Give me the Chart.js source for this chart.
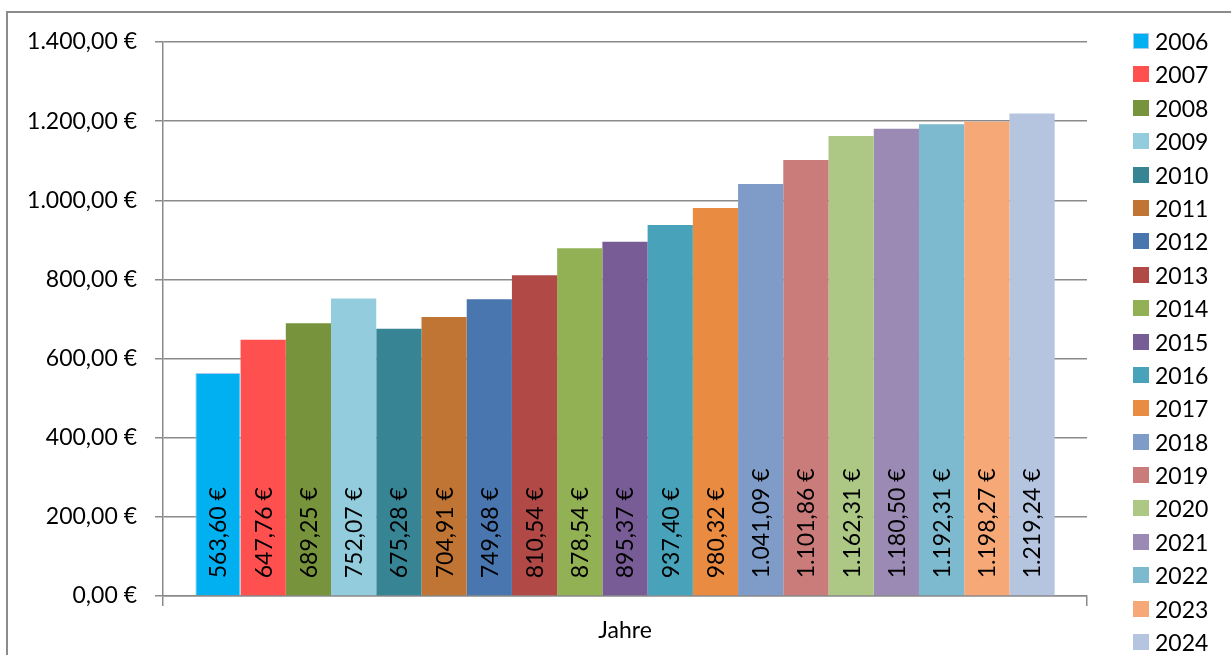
<!DOCTYPE html>
<html>
<head>
<meta charset="utf-8">
<script src="https://cdn.jsdelivr.net/npm/chart.js@4/dist/chart.umd.min.js"></script>
<style>
  html, body { margin: 0; padding: 0; background: #fff; }
  #wrap { position: relative; width: 1231px; height: 655px; overflow: hidden; }
  #frame { position: absolute; left: 6px; top: 11px; width: 1300px; height: 700px; border: 2px solid #8c8c8c; }
  #myChart { position: absolute; left: 0; top: 0; }
  #legend { position: absolute; left: 1133px; top: 0; font-family: Lato, sans-serif; font-size: 23px; color: #000; }
  .item { position: absolute; left: 0; height: 26px; white-space: nowrap; }
  .item span.box { position: absolute; left: 0; top: 5px; width: 16px; height: 16px; box-sizing: border-box; }
  .item span.txt { position: absolute; left: 22px; top: 0; line-height: 26px; }
</style>
</head>
<body>
<div id="wrap">
  <div id="frame"></div>
  <canvas id="myChart" width="1231" height="655"></canvas>
  <div id="legend"></div>
</div>
<script>
// one category, one series per year
const categories = ['Jahre'];
const years = ['2006', '2007', '2008', '2009', '2010', '2011', '2012', '2013', '2014', '2015',
               '2016', '2017', '2018', '2019', '2020', '2021', '2022', '2023', '2024'];
const amounts = [563.60, 647.76, 689.25, 752.07, 675.28, 704.91, 749.68, 810.54, 878.54, 895.37,
                 937.40, 980.32, 1041.09, 1101.86, 1162.31, 1180.50, 1192.31, 1198.27, 1219.24];
const colors = ['#00B0F0', '#FF5050', '#77933C', '#93CDDD', '#378495', '#C07535', '#4A76AF',
                '#B14A47', '#92B054', '#775C96', '#47A2BA', '#E98B41', '#7F9CC8', '#CA7C7B',
                '#ADC785', '#9B8AB4', '#7DBAD0', '#F6A977', '#B5C4DF'];
const yTicks = [0, 200, 400, 600, 800, 1000, 1200, 1400];

// German currency format, e.g. 1.041,09 €
function euro(v) {
    let parts = v.toFixed(2).split('.');
    parts[0] = parts[0].replace(/\B(?=(\d{3})+(?!\d))/g, '.');
    return parts[0] + ',' + parts[1] + ' €';
}

const FONT = 'Lato, sans-serif';
const GRID = '#8a8a8a';

// labels standing upright inside the bars, near the base
const barLabels = {
    id: 'barLabels',
    afterDatasetsDraw(chart) {
        const ctx = chart.ctx;
        ctx.save();
        ctx.font = '23px ' + FONT;
        ctx.fillStyle = '#000';
        ctx.textAlign = 'left';
        ctx.textBaseline = 'middle';
        chart.data.datasets.forEach((ds, i) => {
            chart.getDatasetMeta(i).data.forEach((bar, j) => {
                ctx.save();
                ctx.translate(bar.x, bar.base - 17);
                ctx.rotate(-Math.PI / 2);
                ctx.fillText(euro(ds.data[j]), 0, 1);
                ctx.restore();
            });
        });
        ctx.restore();
    }
};

const datasets = years.map((y, i) => ({
    label: y,
    data: [amounts[i]],
    backgroundColor: colors[i],
    borderColor: i === 0 ? '#A9CBEB' : colors[i],
    borderWidth: i === 0 ? 1 : 0,
    categoryPercentage: 0.93,
    barPercentage: 1.0
}));

const chart = new Chart(document.getElementById('myChart'), {
    type: 'bar',
    data: { labels: categories, datasets: datasets },
    options: {
        responsive: false,
        animation: false,
        layout: { padding: { top: 42, left: 0, right: 144, bottom: 0 } },
        plugins: { legend: { display: false }, tooltip: { enabled: false } },
        scales: {
            x: {
                grid: { display: true, drawOnChartArea: false, drawTicks: true, tickLength: 10, color: GRID, lineWidth: 1.5 },
                border: { display: true, color: GRID, width: 1.5 },
                ticks: { color: '#000', font: { family: FONT, size: 23 }, padding: 11 },
                afterFit: s => { s.height = 59; }
            },
            y: {
                min: 0,
                max: 1400,
                afterBuildTicks: s => { s.ticks = yTicks.map(v => ({ value: v })); },
                grid: { color: GRID, lineWidth: 1.5, tickLength: 8 },
                border: { display: true, color: GRID, width: 1.5 },
                ticks: { color: '#000', font: { family: FONT, size: 23 }, padding: 18, callback: v => euro(v) },
                afterFit: s => { s.width = 163; }
            }
        }
    },
    plugins: [barLabels]
});

// legend built from the same arrays
const legend = document.getElementById('legend');
years.forEach((y, i) => {
    const item = document.createElement('div');
    item.className = 'item';
    item.style.top = (28 + i * 33.39) + 'px';
    const box = document.createElement('span');
    box.className = 'box';
    box.style.background = colors[i];
    if (i === 0) box.style.border = '1.5px solid #A9CBEB';
    const txt = document.createElement('span');
    txt.className = 'txt';
    txt.textContent = y;
    item.appendChild(box);
    item.appendChild(txt);
    legend.appendChild(item);
});
</script>
</body>
</html>
